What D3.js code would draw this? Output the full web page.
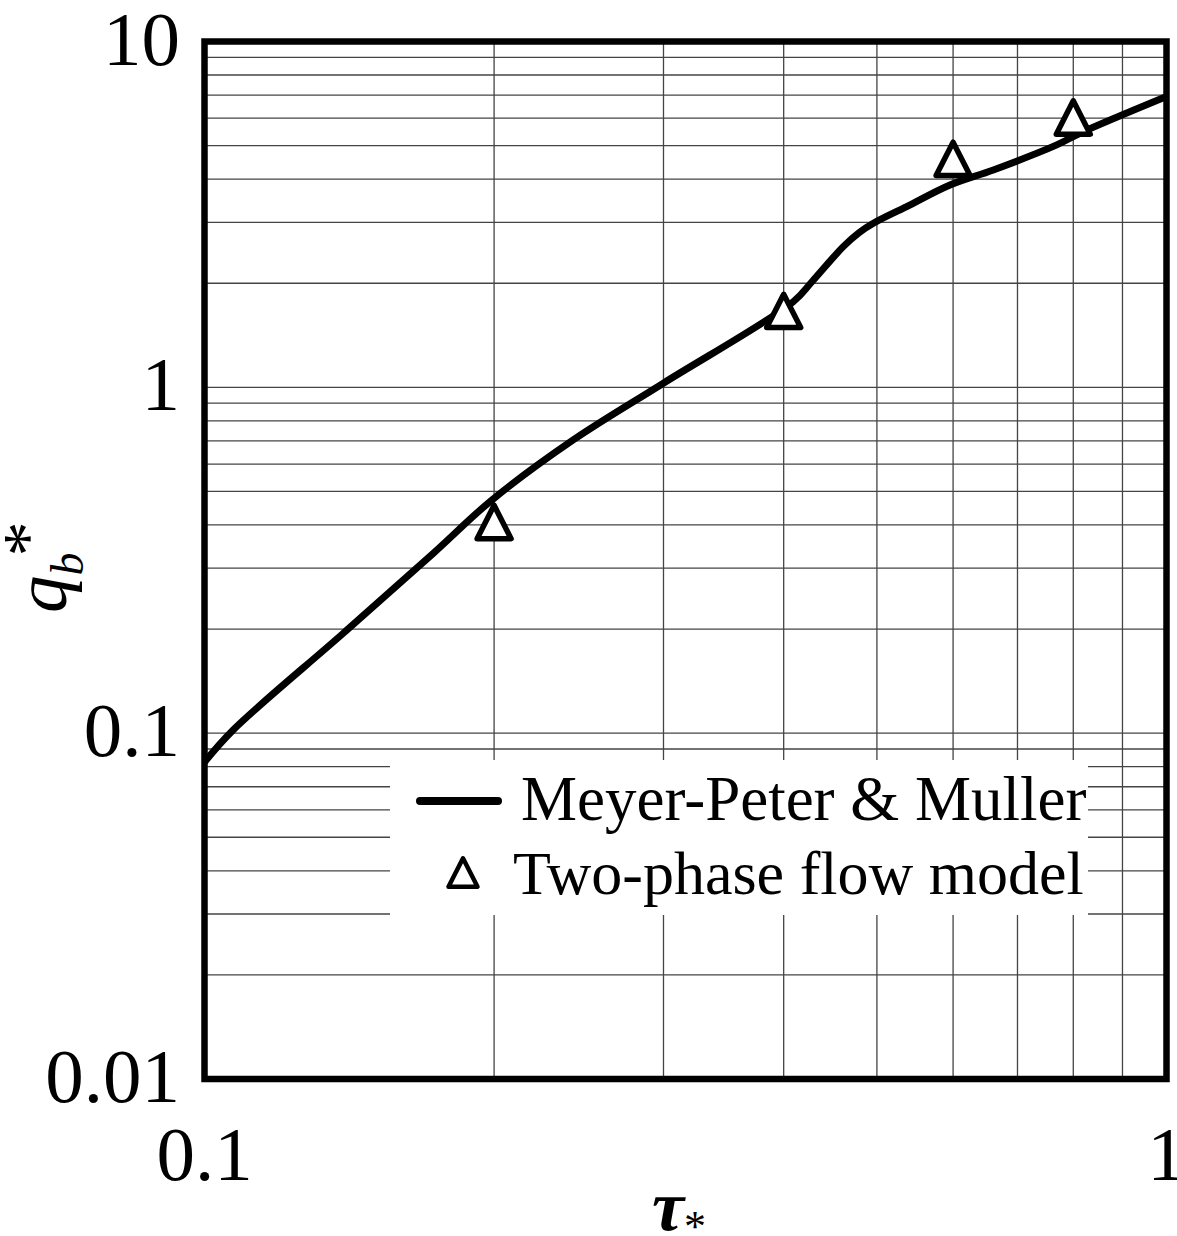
<!DOCTYPE html>
<html>
<head>
<meta charset="utf-8">
<script src="https://cdn.jsdelivr.net/npm/d3@7/dist/d3.min.js"></script>
<style>
  html, body { margin: 0; padding: 0; background: #fff; }
  svg { display: block; }
  text { font-family: "Liberation Serif", "Times New Roman", serif; fill: #000; }
</style>
</head>
<body>
<svg id="chart" width="1177" height="1236"></svg>
<script>
// ---- Data ----
const mpmTau = [0.1, 0.1071, 0.1394, 0.1729, 0.199, 0.2417, 0.2999, 0.4094, 0.428, 0.4613, 0.479, 0.4958, 0.537, 0.5956, 0.6607, 0.769, 0.8131, 1.0];
const mpmQ   = [0.0825, 0.1022, 0.1945, 0.3312, 0.4725, 0.7046, 1.028, 1.769, 2.02, 2.552, 2.8, 2.981, 3.332, 3.848, 4.253, 5.023, 5.43, 6.93];

const modelTau = [0.2, 0.4, 0.6, 0.8];
const modelQ   = [0.408, 1.663, 4.577, 6.03];

const xTickLabels = [0.1, 1];
const yTickLabels = [0.01, 0.1, 1, 10];
const legendLabels = ["Meyer-Peter & Muller", "Two-phase flow model"];

// ---- Layout ----
const svg = d3.select("#chart");
const L = 204.5, R = 1166.5, T = 41.5, B = 1079;

const x = d3.scaleLog().domain([0.1, 1]).range([L, R]);
const y = d3.scaleLog().domain([0.01, 10]).range([B, T]);

// Grid
const gridColor = "#444";
const gGrid = svg.append("g");
gGrid.selectAll("line.gx")
  .data(x.ticks().filter(v => v > 0.1 + 1e-9 && v < 1 - 1e-9))
  .join("line")
  .attr("x1", d => x(d)).attr("x2", d => x(d))
  .attr("y1", T).attr("y2", B)
  .attr("stroke", gridColor).attr("stroke-width", 1.3);
gGrid.selectAll("line.gy")
  .data(y.ticks().filter(v => v > 0.01 + 1e-12 && v < 10 - 1e-9))
  .join("line")
  .attr("x1", L).attr("x2", R)
  .attr("y1", d => y(d)).attr("y2", d => y(d))
  .attr("stroke", gridColor).attr("stroke-width", 1.3);

// Legend background (covers grid)
svg.append("rect")
  .attr("x", 390).attr("y", 760)
  .attr("width", 698).attr("height", 155)
  .attr("fill", "#fff");

// Curve
const line = d3.line()
  .x((d, i) => x(mpmTau[i]))
  .y((d, i) => y(mpmQ[i]))
  .curve(d3.curveCatmullRom.alpha(0.5));
svg.append("path")
  .datum(mpmTau)
  .attr("d", line)
  .attr("fill", "none")
  .attr("stroke", "#000")
  .attr("stroke-width", 7)
  .attr("stroke-linejoin", "round");

// Triangle markers
function tri(cx, cy, s) {
  const h = s * 0.98;
  return `M${cx},${cy - h / 2} L${cx + s / 2},${cy + h / 2} L${cx - s / 2},${cy + h / 2} Z`;
}
svg.selectAll("path.mk")
  .data(modelTau)
  .join("path")
  .attr("d", (d, i) => tri(x(d), y(modelQ[i]), 34))
  .attr("fill", "#fff")
  .attr("stroke", "#000")
  .attr("stroke-width", 5.5)
  .attr("stroke-linejoin", "round");

// Frame
svg.append("rect")
  .attr("x", L).attr("y", T)
  .attr("width", R - L).attr("height", B - T)
  .attr("fill", "none")
  .attr("stroke", "#000")
  .attr("stroke-width", 6.5);

// Y tick labels
svg.selectAll("text.yt")
  .data(yTickLabels)
  .join("text")
  .attr("x", 180)
  .attr("y", d => y(d) + 23)
  .attr("text-anchor", "end")
  .attr("font-size", 77)
  .text(d => String(d));

// X tick labels
svg.selectAll("text.xt")
  .data(xTickLabels)
  .join("text")
  .attr("x", d => x(d))
  .attr("y", 1180)
  .attr("text-anchor", "middle")
  .attr("font-size", 77)
  .text(d => String(d));

// X axis title: tau with subscript asterisk
const xt = svg.append("text")
  .attr("x", 652).attr("y", 1230)
  .attr("font-size", 72);
xt.append("tspan").attr("font-weight", "bold").attr("font-style", "italic").text("τ");
xt.append("tspan").attr("font-size", 44).attr("dy", 11).text("*");

// Y axis title: q_b^*
const yt = svg.append("text")
  .attr("transform", "translate(66,613) rotate(-90)")
  .attr("font-size", 75);
yt.append("tspan").attr("font-style", "italic").text("q");
yt.append("tspan").attr("font-style", "italic").attr("font-size", 46).attr("dy", 17).text("b");
yt.append("tspan").attr("font-size", 70).attr("dx", -4).attr("dy", -32).text("*");

// Legend
svg.append("line")
  .attr("x1", 420).attr("x2", 498)
  .attr("y1", 801).attr("y2", 801)
  .attr("stroke", "#000").attr("stroke-width", 8)
  .attr("stroke-linecap", "round");
svg.append("path")
  .attr("d", tri(463, 872.5, 29))
  .attr("fill", "#fff").attr("stroke", "#000")
  .attr("stroke-width", 4.5).attr("stroke-linejoin", "round");
svg.append("text")
  .attr("x", 521).attr("y", 820)
  .attr("font-size", 63)
  .text(legendLabels[0]);
svg.append("text")
  .attr("x", 513).attr("y", 894)
  .attr("font-size", 62)
  .text(legendLabels[1]);
</script>
</body>
</html>
